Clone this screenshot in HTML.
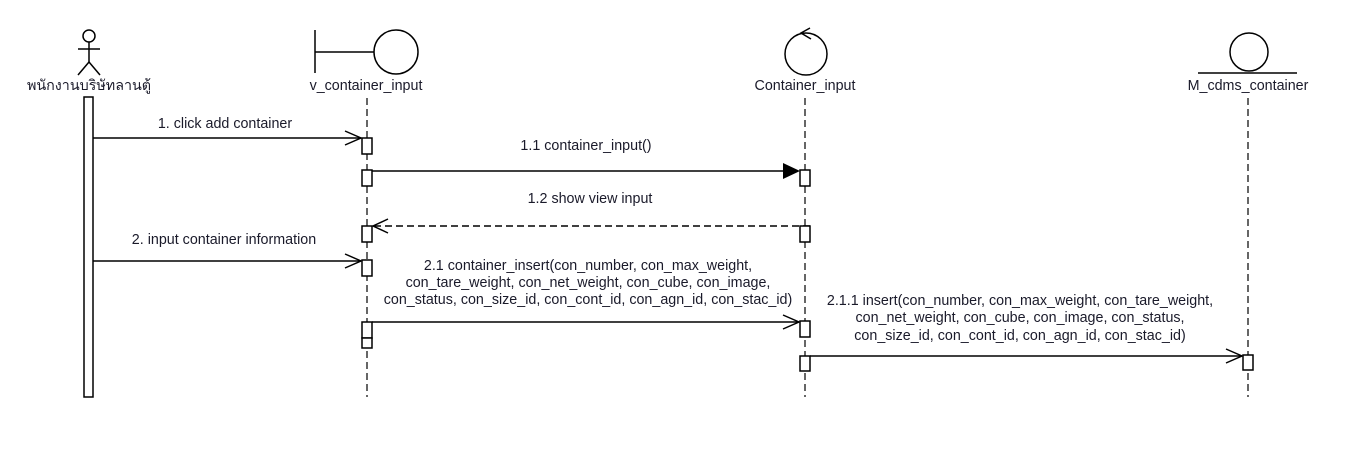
<!DOCTYPE html>
<html><head><meta charset="utf-8"><style>
body{margin:0;background:#fff;width:1353px;height:470px;overflow:hidden}
text{font-family:"Liberation Sans","Noto Sans CJK SC",sans-serif;font-size:14.3px;fill:#1a1a2a}
</style></head><body>
<svg width="1353" height="470" viewBox="0 0 1353 470" xmlns="http://www.w3.org/2000/svg">
<g stroke="#000" stroke-width="1.5" fill="none">
<circle cx="89" cy="36" r="6"/>
<line x1="89" y1="42" x2="89" y2="62"/>
<line x1="78" y1="49" x2="100" y2="49"/>
<line x1="89" y1="62" x2="78" y2="75"/>
<line x1="89" y1="62" x2="100" y2="75"/>
<line x1="315" y1="30" x2="315" y2="73"/>
<line x1="315" y1="52" x2="374" y2="52"/>
<circle cx="396" cy="52" r="22"/>
<circle cx="806" cy="54" r="21"/>
<path d="M810 28 L801 33 L811 39"/>
<circle cx="1249" cy="52" r="19"/>
<line x1="1198" y1="73" x2="1297" y2="73"/>
<g stroke-dasharray="7,4" stroke-width="1.2">
<line x1="367" y1="98" x2="367" y2="397"/>
<line x1="805" y1="98" x2="805" y2="397"/>
<line x1="1248" y1="98" x2="1248" y2="397"/>
</g>
<line x1="93" y1="138" x2="361" y2="138"/>
<path d="M345 131 L361 138 L345 145"/>
<line x1="372" y1="171" x2="785" y2="171"/>
<line x1="810" y1="226" x2="374" y2="226" stroke-dasharray="7,4"/>
<path d="M388 219 L373 226 L388 233"/>
<line x1="93" y1="261" x2="361" y2="261"/>
<path d="M345 254 L361 261 L345 268"/>
<line x1="372" y1="322" x2="799" y2="322"/>
<path d="M783 315 L799 322 L783 329"/>
<line x1="810" y1="356" x2="1242" y2="356"/>
<path d="M1226 349 L1242 356 L1226 363"/>
</g>
<path d="M783 163 L800 171 L783 179 Z" fill="#000"/>
<g stroke="#000" stroke-width="1.5" fill="#fff">
<rect x="84" y="97" width="9" height="300"/>
<rect x="362" y="138" width="10" height="16"/>
<rect x="362" y="170" width="10" height="16"/>
<rect x="362" y="226" width="10" height="16"/>
<rect x="362" y="260" width="10" height="16"/>
<rect x="362" y="322" width="10" height="16"/>
<rect x="362" y="338" width="10" height="10"/>
<rect x="800" y="170" width="10" height="16"/>
<rect x="800" y="226" width="10" height="16"/>
<rect x="800" y="321" width="10" height="16"/>
<rect x="800" y="356" width="10" height="15"/>
<rect x="1243" y="355" width="10" height="15"/>
</g>
<text x="89" y="90" text-anchor="middle">พนักงานบริษัทลานตู้</text>
<text x="366" y="90" text-anchor="middle">v_container_input</text>
<text x="805" y="90" text-anchor="middle">Container_input</text>
<text x="1248" y="90" text-anchor="middle">M_cdms_container</text>
<text x="225" y="128" text-anchor="middle">1. click add container</text>
<text x="586" y="150" text-anchor="middle">1.1 container_input()</text>
<text x="590" y="203" text-anchor="middle">1.2 show view input</text>
<text x="224" y="244" text-anchor="middle">2. input container information</text>
<text x="588" y="270" text-anchor="middle">2.1 container_insert(con_number, con_max_weight,</text>
<text x="588" y="287" text-anchor="middle">con_tare_weight, con_net_weight, con_cube, con_image,</text>
<text x="588" y="304" text-anchor="middle">con_status, con_size_id, con_cont_id, con_agn_id, con_stac_id)</text>
<text x="1020" y="305" text-anchor="middle">2.1.1 insert(con_number, con_max_weight, con_tare_weight,</text>
<text x="1020" y="322" text-anchor="middle">con_net_weight, con_cube, con_image, con_status,</text>
<text x="1020" y="340" text-anchor="middle">con_size_id, con_cont_id, con_agn_id, con_stac_id)</text>
</svg>
</body></html>
